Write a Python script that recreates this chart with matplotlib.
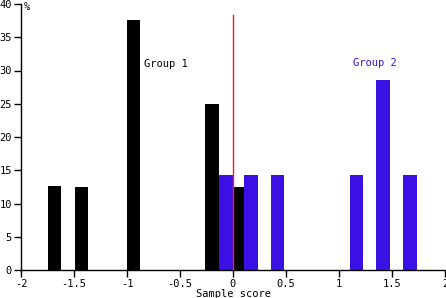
import matplotlib
matplotlib.use("Agg")
import matplotlib.pyplot as plt

# Data
group1_x = [-1.684, -1.430, -0.936, -0.198, 0.056]
group1_pct = [12.6, 12.5, 37.6, 25.0, 12.5]
group2_x = [-0.066, 0.169, 0.419, 1.167, 1.416, 1.670]
group2_pct = [14.29, 14.29, 14.29, 14.29, 28.57, 14.29]
bar_width = 0.125
xticks = [-2, -1.5, -1, -0.5, 0, 0.5, 1, 1.5, 2]
xtick_labels = ["-2", "-1.5", "-1", "-0.5", "0", "0.5", "1", "1.5", "2"]
yticks = [0, 5, 10, 15, 20, 25, 30, 35, 40]

fig = plt.figure(figsize=(4.46, 2.98), dpi=100)
ax = fig.add_axes([21/446, 28/298, 424/446, 266/298])
font = dict(family="DejaVu Sans Mono", size=7.5)

blue = "#3A10E5"
ax.bar(group1_x, group1_pct, width=bar_width, color="black", linewidth=0, zorder=2)
ax.bar(group2_x, group2_pct, width=bar_width, color=blue, linewidth=0, zorder=2)
ax.plot([0, 0], [0, 38.3], color="#FF1A1A", linewidth=1, zorder=3)

ax.text(-0.84, 31, "Group 1", color="black", va="center", ha="left", **font)
ax.text(1.13, 31.2, "Group 2", color=blue, va="center", ha="left", **font)

ax.set_xlim(-2, 2)
ax.set_ylim(0, 40)
ax.set_xticks(xticks)
ax.set_xticklabels(xtick_labels, **font)
ax.set_yticks(yticks)
ax.set_yticklabels([str(v) for v in yticks], **font)
ax.tick_params(direction="out", length=5, width=1, pad=1.5)
for s in ["top", "right"]:
    ax.spines[s].set_visible(False)
for s in ["left", "bottom"]:
    ax.spines[s].set_linewidth(1)
ax.set_xlabel("Sample score", labelpad=0, **font)
fig.text(24/446, 1 - 7/298, "%", va="center", ha="left", **font)

fig.savefig("out.png", dpi=100)
